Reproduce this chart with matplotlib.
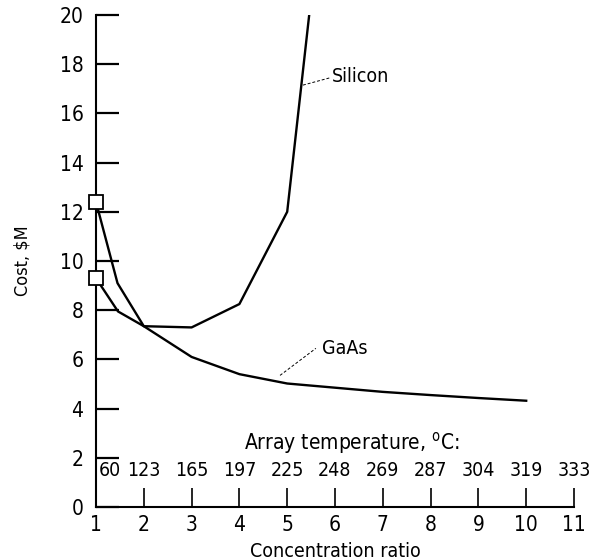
import numpy as np
import matplotlib
matplotlib.use("Agg")
import matplotlib.pyplot as plt

plt.rcParams['font.family'] = ['DejaVu Sans']
plt.rcParams['font.stretch'] = 'condensed'

# data
si_ratio = [1, 1.45, 2, 3, 4, 5, 5.46]
si_cost = [12.4, 9.1, 7.35, 7.3, 8.25, 12.0, 20.0]

gaas_ratio = [1, 1.46, 2, 3, 4, 5, 6, 7, 8, 9, 10]
gaas_cost = [9.3, 7.95, 7.35, 6.1, 5.4, 5.02, 4.85, 4.68, 4.55, 4.43, 4.32]

conc_ticks = [1, 2, 3, 4, 5, 6, 7, 8, 9, 10, 11]
temp_labels = ['60', '123', '165', '197', '225', '248', '269', '287', '304', '319', '333']
cost_ticks = [0, 2, 4, 6, 8, 10, 12, 14, 16, 18, 20]

fig = plt.figure(figsize=(5.91, 5.6), dpi=100)
ax = fig.add_axes([96/591, 53/560, (574-96)/591, (507-15)/560])

ax.plot(si_ratio, si_cost, color='black', lw=1.7)
ax.plot(gaas_ratio, gaas_cost, color='black', lw=1.7)
# open squares at concentration ratio 1
ax.plot([si_ratio[0], gaas_ratio[0]], [si_cost[0], gaas_cost[0]], 's',
        ms=10, mfc='white', mec='black', mew=1.3, clip_on=False, zorder=5)

ax.set_xlim(1, 11)
ax.set_ylim(0, 20)
ax.spines['top'].set_visible(False)
ax.spines['right'].set_visible(False)
ax.spines['left'].set_linewidth(1.5)
ax.spines['bottom'].set_linewidth(1.5)

ax.set_yticks(cost_ticks)
ax.tick_params(axis='y', direction='in', length=16.5, width=1.6, pad=9, labelsize=15)
ax.set_xticks(conc_ticks)
ax.tick_params(axis='x', direction='in', length=14, width=1.2, pad=6, labelsize=15)

# temperature scale written above the concentration ticks
for i, (c, t) in enumerate(zip(conc_ticks, temp_labels)):
    xoff = 0.3 if i == 0 else 0
    ax.text(c + xoff, 1.5, t, ha='center', va='center', fontsize=14)
ax.text(6.35, 2.6, 'Array temperature, $^{\\mathrm{o}}$C:', ha='center', va='center', fontsize=15)

ax.set_ylabel('Cost, $M', fontsize=13, labelpad=20)
ax.set_xlabel('Concentration ratio', fontsize=14, labelpad=5)

# labels with dashed leaders
ax.plot([5.33, 5.9], [17.15, 17.45], color='black', lw=0.7, ls=(0, (3, 2)))
ax.text(5.93, 17.5, 'Silicon', ha='left', va='center', fontsize=14)
ax.plot([4.85, 5.6], [5.35, 6.45], color='black', lw=0.7, ls=(0, (3, 2)))
ax.text(5.73, 6.45, 'GaAs', ha='left', va='center', fontsize=14)

fig.savefig('out.png', dpi=100)
